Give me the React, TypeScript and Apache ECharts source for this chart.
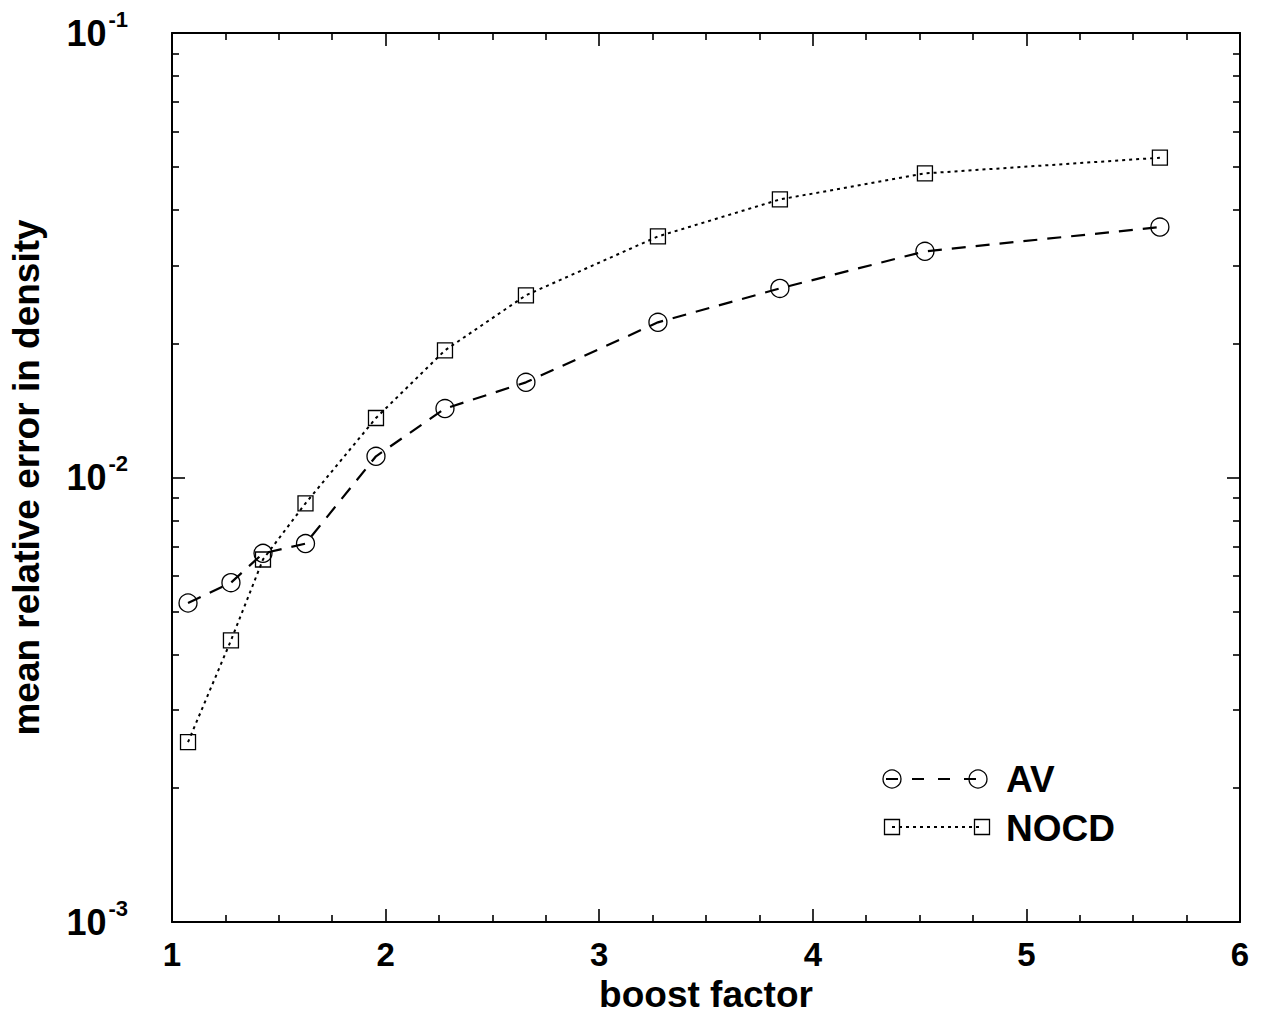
import React, { useEffect, useRef } from "react";
import * as echarts from "echarts";

const boostFactor = [1.075, 1.276, 1.426, 1.625, 1.955, 2.278, 2.657, 3.275, 3.846, 4.525, 5.625];
const avError = [0.00522, 0.0058, 0.00675, 0.0071, 0.01116, 0.01429, 0.01637, 0.02234, 0.02663, 0.03227, 0.03659];
const nocdError = [0.00254, 0.0043, 0.00654, 0.00875, 0.01361, 0.01932, 0.0257, 0.03486, 0.04222, 0.04832, 0.05241];
const xTicks = [1, 2, 3, 4, 5, 6];
const yDecades = [0.001, 0.01, 0.1];
const seriesNames = ["AV", "NOCD"];
const xTitle = "boost factor";
const yTitle = "mean relative error in density";

const FONT = "Liberation Sans";

export default function App() {
  const ref = useRef<HTMLDivElement>(null);
  useEffect(() => {
    if (!ref.current) return;
    const chart = echarts.init(ref.current, undefined, { renderer: "svg" });

    const minorLogs: number[] = [];
    for (let d = 0; d < yDecades.length - 1; d++) {
      for (let k = 2; k <= 9; k++) minorLogs.push(Math.log10(k * yDecades[d]));
    }
    const lgMin = Math.log10(yDecades[0]);
    const lgMax = Math.log10(yDecades[yDecades.length - 1]);

    const axisLine = { show: true, onZero: false, lineStyle: { color: "#000", width: 2 } };
    const majorTick = { show: true, inside: true, length: 13, lineStyle: { color: "#000", width: 1.6 } };
    const minorTickX = { show: true, splitNumber: 4, length: 7, lineStyle: { color: "#000", width: 1.6 } };
    const titleStyle = { color: "#000", fontSize: 37, fontWeight: "bold", fontFamily: FONT };

    const baseX = {
      type: "value",
      min: xTicks[0],
      max: xTicks[xTicks.length - 1],
      interval: 1,
      axisLine,
      axisTick: majorTick,
      minorTick: minorTickX,
      splitLine: { show: false },
      minorSplitLine: { show: false },
    };

    const minorY = (pos: string) => ({
      type: "value",
      position: pos,
      min: lgMin,
      max: lgMax,
      axisLine: { show: false, onZero: false },
      axisTick: { show: true, inside: true, length: 7, customValues: minorLogs, lineStyle: { color: "#000", width: 1.6 } },
      axisLabel: { show: false },
      splitLine: { show: false },
    });

    chart.setOption({
      animation: false,
      backgroundColor: "#fff",
      grid: { left: 172, right: 25, top: 33, bottom: 104, containLabel: false },
      xAxis: [
        {
          ...baseX,
          position: "bottom",
          axisLabel: {
            show: true,
            margin: 16,
            color: "#000",
            fontSize: 33,
            fontWeight: "bold",
            fontFamily: FONT,
          },
          name: xTitle,
          nameLocation: "middle",
          nameGap: 50,
          nameTextStyle: titleStyle,
        },
        { ...baseX, position: "top", axisLabel: { show: false } },
      ],
      yAxis: [
        {
          type: "log",
          logBase: 10,
          position: "left",
          min: yDecades[0],
          max: yDecades[yDecades.length - 1],
          axisLine,
          axisTick: majorTick,
          splitLine: { show: false },
          axisLabel: {
            show: true,
            margin: 44,
            formatter: (v: number) => {
              const e = Math.round(Math.log10(v));
              return `{b|10}{s|-${Math.abs(e)}}`;
            },
            rich: {
              b: { fontSize: 36, fontWeight: "bold", fontFamily: FONT, color: "#000", lineHeight: 40 },
              s: { fontSize: 22, fontWeight: "bold", fontFamily: FONT, color: "#000", lineHeight: 22, padding: [0, 0, 28, 2] },
            },
          },
          name: yTitle,
          nameLocation: "middle",
          nameRotate: 90,
          nameGap: 127,
          nameTextStyle: titleStyle,
        },
        {
          type: "log",
          logBase: 10,
          position: "right",
          min: yDecades[0],
          max: yDecades[yDecades.length - 1],
          axisLine,
          axisTick: majorTick,
          splitLine: { show: false },
          axisLabel: { show: false },
        },
        minorY("left"),
        minorY("right"),
      ],
      series: [
        {
          name: seriesNames[0],
          type: "line",
          xAxisIndex: 0,
          yAxisIndex: 0,
          data: boostFactor.map((x, i) => [x, avError[i]]),
          symbol: "circle",
          symbolSize: 18,
          showAllSymbol: true,
          itemStyle: { color: "rgba(0,0,0,0)", borderColor: "#000", borderWidth: 1.3 },
          lineStyle: { color: "#000", width: 2.2, type: [14, 10] },
          z: 3,
        },
        {
          name: seriesNames[1],
          type: "line",
          xAxisIndex: 0,
          yAxisIndex: 0,
          data: boostFactor.map((x, i) => [x, nocdError[i]]),
          symbol: "rect",
          symbolSize: 15,
          showAllSymbol: true,
          itemStyle: { color: "rgba(0,0,0,0)", borderColor: "#000", borderWidth: 1.3 },
          lineStyle: { color: "#000", width: 2, type: [3, 4] },
          z: 3,
        },
      ],
      graphic: [
        { type: "line", shape: { x1: 886, y1: 779, x2: 984, y2: 779 }, style: { stroke: "#000", lineWidth: 2.2, lineDash: [12, 14] } },
        { type: "circle", shape: { cx: 892, cy: 779, r: 9 }, style: { fill: "none", stroke: "#000", lineWidth: 1.3 } },
        { type: "circle", shape: { cx: 978, cy: 779, r: 9 }, style: { fill: "none", stroke: "#000", lineWidth: 1.3 } },
        { type: "text", x: 1006, y: 779, style: { text: seriesNames[0], fill: "#000", font: `bold 37px '${FONT}'`, verticalAlign: "middle", align: "left" } },
        { type: "line", shape: { x1: 892, y1: 827, x2: 982, y2: 827 }, style: { stroke: "#000", lineWidth: 2, lineDash: [3, 4] } },
        { type: "rect", shape: { x: 884.5, y: 819.5, width: 15, height: 15 }, style: { fill: "none", stroke: "#000", lineWidth: 1.3 } },
        { type: "rect", shape: { x: 974.5, y: 819.5, width: 15, height: 15 }, style: { fill: "none", stroke: "#000", lineWidth: 1.3 } },
        { type: "text", x: 1006, y: 828, style: { text: seriesNames[1], fill: "#000", font: `bold 37px '${FONT}'`, verticalAlign: "middle", align: "left" } },
      ],
    });
    return () => chart.dispose();
  }, []);
  return <div ref={ref} style={{ position: "fixed", left: 0, top: 0, width: 1265, height: 1026 }} />;
}
